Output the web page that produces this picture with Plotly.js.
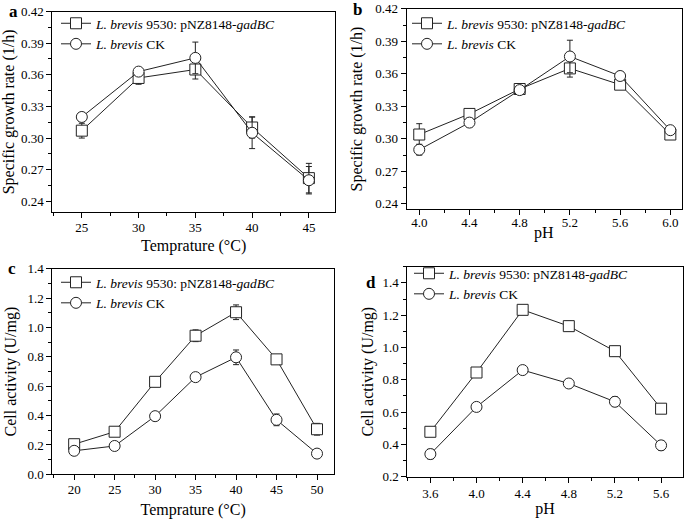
<!DOCTYPE html>
<html>
<head>
<meta charset="utf-8">
<script src="https://cdn.plot.ly/plotly-3.0.1.min.js"></script>
<style>html,body{margin:0;padding:0;background:#fff;}#chart{width:685px;height:519px;}</style>
</head>
<body>
<div id="chart"></div>
<script>
// ---- Data ----
const nameGad = '<i>L. brevis</i> 9530: pNZ8148-<i>gadBC</i>';
const nameCK = '<i>L. brevis</i> CK';

// Panel a: specific growth rate vs temperature
const tempA = [25, 30, 35, 40, 45];
const rateA_gad = [0.307, 0.357, 0.365, 0.310, 0.262];
const rateA_gadErr = [0.007, 0.006, 0.009, 0.010, 0.014];
const rateA_ck = [0.320, 0.363, 0.376, 0.305, 0.260];
const rateA_ckErr = [0.004, 0.003, 0.015, 0.015, 0.013];

// Panel b: specific growth rate vs pH
const phB = [4.0, 4.4, 4.8, 5.2, 5.6, 6.0];
const rateB_gad = [0.304, 0.323, 0.346, 0.365, 0.350, 0.304];
const rateB_gadErr = [0.010, 0.003, 0.002, 0.008, 0.002, 0.002];
const rateB_ck = [0.290, 0.315, 0.345, 0.376, 0.358, 0.308];
const rateB_ckErr = [0.005, 0.004, 0.003, 0.015, 0.004, 0.002];

// Panel c: cell activity vs temperature
const tempC = [20, 25, 30, 35, 40, 45, 50];
const actC_gad = [0.205, 0.29, 0.63, 0.944, 1.104, 0.783, 0.307];
const actC_gadErr = [0.03, 0.03, 0.02, 0.04, 0.05, 0.02, 0.04];
const actC_ck = [0.16, 0.193, 0.396, 0.662, 0.797, 0.371, 0.141];
const actC_ckErr = [0.02, 0.02, 0.02, 0.01, 0.05, 0.04, 0.01];

// Panel d: cell activity vs pH
const phD = [3.6, 4.0, 4.4, 4.8, 5.2, 5.6];
const actD_gad = [0.478, 0.845, 1.233, 1.132, 0.977, 0.621];
const actD_gadErr = [0.02, 0.01, 0.01, 0.03, 0.03, 0.01];
const actD_ck = [0.340, 0.632, 0.860, 0.777, 0.664, 0.394];
const actD_ckErr = [0.03, 0.01, 0.01, 0.02, 0.03, 0.03];

// ---- Styling ----
const W = 685, H = 519;
const serif = 'Liberation Serif, Times New Roman, serif';
const lineCol = '#222';

function series(x, y, err, name, symbol, xa, ya, leg) {
  return {
    type: 'scatter', mode: 'lines+markers', x: x, y: y, name: name,
    xaxis: xa, yaxis: ya, legend: leg, showlegend: true,
    line: {color: lineCol, width: 1},
    marker: {symbol: symbol, size: 11, color: '#fff', line: {color: lineCol, width: 1}},
    error_y: {type: 'data', array: err, visible: true, color: lineCol, thickness: 1, width: 3}
  };
}

const traces = [
  series(tempA, rateA_gad, rateA_gadErr, nameGad, 'square', 'x', 'y', 'legend'),
  series(tempA, rateA_ck, rateA_ckErr, nameCK, 'circle', 'x', 'y', 'legend'),
  series(phB, rateB_gad, rateB_gadErr, nameGad, 'square', 'x2', 'y2', 'legend2'),
  series(phB, rateB_ck, rateB_ckErr, nameCK, 'circle', 'x2', 'y2', 'legend2'),
  series(tempC, actC_gad, actC_gadErr, nameGad, 'square', 'x3', 'y3', 'legend3'),
  series(tempC, actC_ck, actC_ckErr, nameCK, 'circle', 'x3', 'y3', 'legend3'),
  series(phD, actD_gad, actD_gadErr, nameGad, 'square', 'x4', 'y4', 'legend4'),
  series(phD, actD_ck, actD_ckErr, nameCK, 'circle', 'x4', 'y4', 'legend4')
];

function px(x) { return x / W; }
function py(y) { return 1 - y / H; }

function minor(dt) {
  return {ticks: 'outside', ticklen: 3, tickwidth: 1, tickcolor: '#000', dtick: dt, tick0: 0, showgrid: false};
}
function axis(opts) {
  return Object.assign({
    showline: true, linecolor: '#000', linewidth: 1, mirror: true,
    ticks: 'outside', ticklen: 5, tickwidth: 1, tickcolor: '#000',
    showgrid: false, zeroline: false, tick0: 0,
    tickfont: {family: serif, size: 13, color: '#000'}
  }, opts);
}
function title(text, standoff) {
  return {text: text, font: {family: serif, size: 16, color: '#000'}, standoff: standoff};
}
function legend(x, y) {
  return {
    x: px(x), y: py(y), xanchor: 'left', yanchor: 'top',
    bgcolor: 'rgba(0,0,0,0)', borderwidth: 0, tracegroupgap: 0,
    font: {family: serif, size: 13.5, color: '#000'}
  };
}
function label(t, x, y, size) {
  return {text: t, x: px(x), y: py(y), xref: 'paper', yref: 'paper',
    xanchor: 'center', yanchor: 'middle', showarrow: false,
    font: {family: serif, size: size, color: '#000'}};
}

const layout = {
  width: W, height: H,
  margin: {l: 0, r: 0, t: 0, b: 0},
  paper_bgcolor: '#fff', plot_bgcolor: '#fff',
  font: {family: serif, color: '#000'},
  // panel a
  xaxis: axis({domain: [px(52.3), px(335)], range: [22.4, 47.3], dtick: 5, minor: minor(2.5),
    ticklabelstandoff: -2, anchor: 'y', title: title('Temprature (°C)', 5)}),
  yaxis: axis({domain: [py(212.3), py(11.5)], range: [0.2296, 0.42], dtick: 0.03, tickformat: '.2f',
    minor: minor(0.015), anchor: 'x', title: title('Specific growth rate (1/h)', 6)}),
  // panel b (x title drawn as annotation below for tighter placement)
  xaxis2: axis({domain: [px(406.7), px(682)], range: [3.9, 6.093], dtick: 0.4, tickformat: '.1f',
    minor: minor(0.2), ticklabelstandoff: -4, anchor: 'y2'}),
  yaxis2: axis({domain: [py(209.3), py(8.8)], range: [0.235, 0.42], dtick: 0.03, tickformat: '.2f',
    minor: minor(0.015), anchor: 'x2', title: title('Specific growth rate (1/h)', 8)}),
  // panel c
  xaxis3: axis({domain: [px(52.3), px(334)], range: [17.3, 52.1], dtick: 5, minor: minor(2.5),
    ticklabelstandoff: -2, anchor: 'y3', title: title('Temprature (°C)', 14)}),
  yaxis3: axis({domain: [py(474.3), py(268.8)], range: [0, 1.4], dtick: 0.2, tickformat: '.1f',
    minor: minor(0.1), anchor: 'x3', title: title('Cell activity (U/mg)', 6)}),
  // panel d
  xaxis4: axis({domain: [px(407.3), px(683)], range: [3.4, 5.79], dtick: 0.4, tickformat: '.1f',
    minor: minor(0.2), anchor: 'y4', title: title('pH', 2)}),
  yaxis4: axis({domain: [py(476.7), py(266.7)], range: [0.2, 1.5], dtick: 0.2, tickformat: '.1f',
    minor: minor(0.1), anchor: 'x4', title: title('Cell activity (U/mg)', 4)}),
  legend: legend(56, 8),
  legend2: legend(407, 8),
  legend3: legend(56, 267),
  legend4: legend(409, 258),
  annotations: [
    label('<b>a</b>', 13, 12, 17),
    label('<b>b</b>', 357, 10, 17),
    label('<b>c</b>', 12, 269, 17),
    label('<b>d</b>', 371, 282, 17),
    label('pH', 544, 233, 16)
  ]
};

Plotly.newPlot('chart', traces, layout, {displayModeBar: false, staticPlot: true});
</script>
</body>
</html>
